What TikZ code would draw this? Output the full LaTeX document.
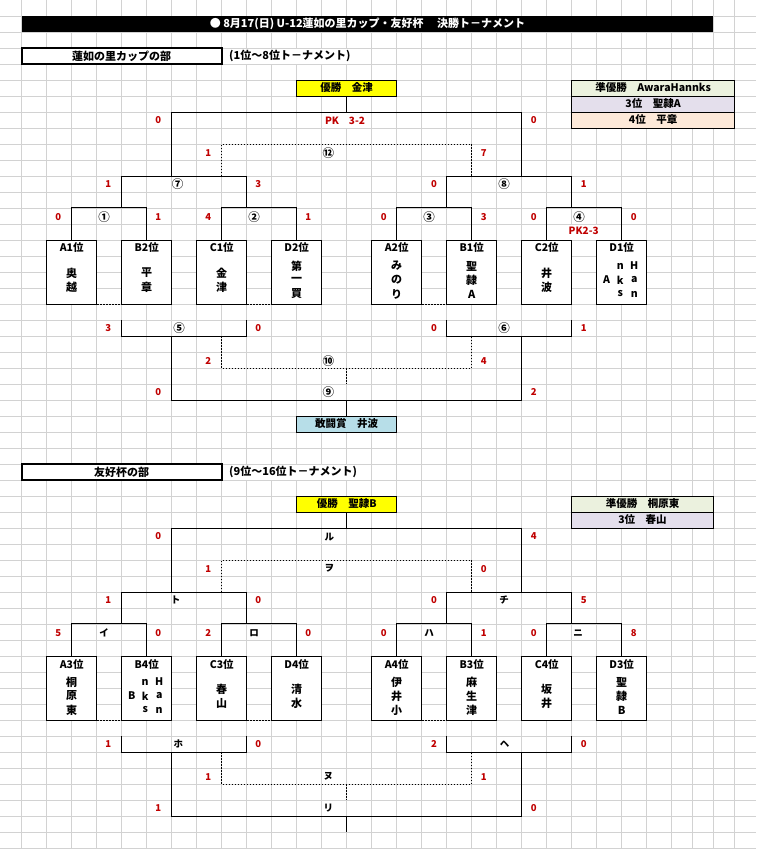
\documentclass[tikz,border=0pt]{standalone}
\usepackage{fontspec}
\setmainfont{Noto Sans CJK JP}
\definecolor{gridc}{HTML}{D2D2D2}
\definecolor{scred}{HTML}{C00000}
\definecolor{yel}{HTML}{FFFF00}
\definecolor{kan}{HTML}{B7DEE8}
\definecolor{jun}{HTML}{EBF1DE}
\definecolor{san}{HTML}{E4DFEC}
\definecolor{yon}{HTML}{FDE9D9}
\newcommand\fs[1]{\fontsize{#1}{#1}\selectfont}
\tikzset{
 ln/.style={line width=0.9pt},
 dotl/.style={line width=0.9pt, dash pattern=on 1.5pt off 1.5pt},
 team/.style={draw, fill=white, line width=0.9pt, minimum width=50pt, minimum height=64pt, inner sep=0pt},
 scr/.style={text=scred, font=\bfseries\fs{9.5}, inner sep=0pt},
 lab/.style={font=\bfseries\fs{9.5}, inner sep=0pt},
 circ/.style={font=\bfseries\fs{11.5}, inner sep=0pt},
 hd/.style={font=\bfseries\fs{10.5}, inner sep=0pt},
 ch/.style={font=\bfseries\fs{11}, inner sep=0pt},
 rbox/.style={draw, line width=0.9pt, minimum height=16pt, inner sep=0pt, font=\bfseries\fs{10.5}},
 secbox/.style={draw, fill=white, line width=1.8pt, minimum width=200pt, minimum height=16pt, inner sep=0pt, font=\bfseries\fs{11}},
 subt/.style={anchor=west, font=\bfseries\fs{11}, inner sep=0pt}
}
% bracket lines of one half (coordinates of the upper half)
\newcommand\brackets[1]{%
  \foreach \i/\xx in {1/71.7,2/146.7,3/221.7,4/296.7,5/396.7,6/471.7,7/546.7,8/621.7}{\node[team] (#1b\i) at (\xx,272) {};}
  \draw[ln] (#1b1.north) -- ++(0,-32) -| (#1b2.north);
  \draw[ln] (#1b3.north) -- ++(0,-32) -| (#1b4.north);
  \draw[ln] (#1b5.north) -- ++(0,-32) -| (#1b6.north);
  \draw[ln] (#1b7.north) -- ++(0,-32) -| (#1b8.north);
  \draw[dotl] (#1b1.south east) -- (#1b2.south west);
  \draw[dotl] (#1b3.south east) -- (#1b4.south west);
  \draw[dotl] (#1b5.south east) -- (#1b6.south west);
  \coordinate (#1sl) at (121.7,208); \coordinate (#1sr) at (571.7,208);
  \draw[ln] (#1sl) -- (121.7,176) -- (246.7,176) -- (246.7,208);
  \draw[ln] (446.7,208) -- (446.7,176) -- (571.7,176) -- (#1sr);
  \draw[ln] (171.7,176) -- (171.7,112) -- (521.7,112) -- (521.7,176);
  \draw[dotl] (221.7,176) -- (221.7,144) -- (471.7,144) -- (471.7,176);
  \draw[ln] (121.7,320) -- (121.7,336) -- (246.7,336) -- (246.7,320);
  \draw[ln] (446.7,320) -- (446.7,336) -- (571.7,336) -- (571.7,320);
  \draw[ln] (171.7,336) -- (171.7,400) -- (521.7,400) -- (521.7,336);
  \coordinate (#1st) at (346.7,400); \coordinate (#1sb) at (346.7,416);
  \draw[ln] (#1st) -- (#1sb);
  \draw[dotl] (221.7,336) -- (221.7,368) -- (471.7,368) -- (471.7,336);
  \draw[dotl] (346.7,368) -- (346.7,384);
}
\newcommand\hdr[3]{\node[hd] (#1) at (#2,248) {#3};}
\newcommand\two[4]{\node[ch] (#1a) at (#2,273) {#3};\node[ch] (#1b) at (#2,287) {#4};}
\newcommand\three[5]{\node[ch] (#1a) at (#2,266) {#3};\node[ch] (#1b) at (#2,280) {#4};\node[ch] (#1c) at (#2,294) {#5};}
\newcommand\han[3]{%
  \node[hd] (#1a) at (#2-1.5,266) {n};\node[hd] (#1b) at (#2+12.5,266) {H};
  \node[hd] (#1c) at (#2-15,280) {#3};\node[hd] (#1d) at (#2-1.5,280) {k};\node[hd] (#1e) at (#2+12.5,280) {a};
  \node[hd] (#1f) at (#2-1.5,294) {s};\node[hd] (#1g) at (#2+12.5,294) {n};}
\begin{document}
\begin{tikzpicture}[x=1pt,y=-1pt]
\useasboundingbox (0,0) rectangle (756,849);
\fill[white] (0,0) rectangle (756,849);
% grid
\foreach \j in {1,...,53}{\draw[gridc,line width=0.8pt] (0,16*\j) -- (756,16*\j);}
\foreach \k in {0,...,26}{\draw[gridc,line width=0.8pt] (21.7+25*\k,0) -- (21.7+25*\k,849);}
\foreach \xx in {692.5,713.3,734.5}{\draw[gridc,line width=0.8pt] (\xx,0) -- (\xx,849);}
% title
\fill[black] (21.7,16) rectangle (713.3,32);
\node[text=white, font=\bfseries\fs{11}, inner sep=0pt] (title) at (367.5,24) {●\ 8月17(日)\ U-12蓮如の里カップ・友好杯　\ 決勝ト－ナメント};

% ===== upper half =====
\fill[white] (222.2,48.5) rectangle (371.2,63.5);
\fill[white] (322.4,112.5) rectangle (371.2,127.5);
\fill[white] (547.2,224.5) rectangle (621.2,239.5);
\node[secbox] (s1) at (121.7,56) {蓮如の里カップの部};
\node[subt] (s1t) at (229,56) {(1位～8位ト－ナメント)};
\brackets{u}
\node[rbox, fill=yel, minimum width=100pt] (w1) at (346.7,88) {優勝　金津};
\draw[ln] (w1.south) -- ++(0,16);
\node[rbox, fill=kan, minimum width=100pt] (k1) at (346.7,424) {敢闘賞　井波};
\node[rbox, fill=jun, minimum width=162.8pt] (r1) at (653.1,88) {準優勝　AwaraHannks};
\node[rbox, fill=san, minimum width=162.8pt] (r2) at (653.1,104) {3位　聖隷A};
\node[rbox, fill=yon, minimum width=162.8pt] (r3) at (653.1,120) {4位　平章};
\node[scr, font=\bfseries\fs{10}] (pk1) at (345,120.5) {PK　3-2};
\node[scr, font=\bfseries\fs{10}] (pk2) at (583.7,231) {PK2-3};
\hdr{uh1}{71.7}{A1位}\hdr{uh2}{146.7}{B2位}\hdr{uh3}{221.7}{C1位}\hdr{uh4}{296.7}{D2位}
\hdr{uh5}{396.7}{A2位}\hdr{uh6}{471.7}{B1位}\hdr{uh7}{546.7}{C2位}\hdr{uh8}{621.7}{D1位}
\two{un1}{71.7}{奥}{越}\two{un2}{146.7}{平}{章}\two{un3}{221.7}{金}{津}\three{un4}{296.7}{第}{一}{買}
\three{un5}{396.7}{み}{の}{り}\three{un6}{471.7}{聖}{隷}{A}\two{un7}{546.7}{井}{波}\han{un8}{621.7}{A}
\foreach \n/\xx/\yy/\v in {1/158.3/120.5/0,2/533.7/120.5/0,3/208.3/152.7/1,4/483.7/152.7/7,
  5/108.3/184.3/1,6/258.3/184.3/3,7/434/184.3/0,8/583.7/184.3/1,
  9/58.3/216.7/0,10/158.3/216.7/1,11/208.3/216.7/4,12/308.3/216.7/1,13/383.7/216.7/0,14/483.7/216.7/3,15/533.7/216.7/0,16/633.7/216.7/0,
  17/108.3/328.3/3,18/258.3/328.3/0,19/434/328.3/0,20/583.7/328.3/1,21/208.3/360.7/2,22/483.7/360.7/4,23/158.3/392.3/0,24/533.7/392.3/2}
  {\node[scr] (us\n) at (\xx,\yy) {\v};}
\foreach \n/\xx/\yy/\v in {1/328.3/152.7/⑫,2/177.7/184.3/⑦,3/504/184.3/⑧,4/104/216.7/①,5/254/216.7/②,6/429/216.7/③,7/579/216.7/④,
  8/179/328.3/⑤,9/504/328.3/⑥,10/328.3/360.7/⑩,11/328.3/392.3/⑨}
  {\node[circ] (ul\n) at (\xx,\yy) {\v};}

% ===== lower half =====
\begin{scope}[shift={(0,416)}]
\fill[white] (222.2,48.5) rectangle (371.2,63.5);
\node[secbox] (s2) at (121.7,56) {友好杯の部};
\node[subt] (s2t) at (229,56) {(9位～16位ト－ナメント)};
\brackets{l}
\node[rbox, fill=yel, minimum width=100pt] (w2) at (346.7,88) {優勝　聖隷B};
\draw[ln] (w2.south) -- ++(0,16);
\node[rbox, fill=jun, minimum width=141.6pt] (r4) at (642.5,88) {準優勝　桐原東};
\node[rbox, fill=san, minimum width=141.6pt] (r5) at (642.5,104) {3位　春山};
\hdr{lh1}{71.7}{A3位}\hdr{lh2}{146.7}{B4位}\hdr{lh3}{221.7}{C3位}\hdr{lh4}{296.7}{D4位}
\hdr{lh5}{396.7}{A4位}\hdr{lh6}{471.7}{B3位}\hdr{lh7}{546.7}{C4位}\hdr{lh8}{621.7}{D3位}
\three{ln1}{71.7}{桐}{原}{東}\han{ln2}{146.7}{B}\two{ln3}{221.7}{春}{山}\two{ln4}{296.7}{清}{水}
\three{ln5}{396.7}{伊}{井}{小}\three{ln6}{471.7}{麻}{生}{津}\two{ln7}{546.7}{坂}{井}\three{ln8}{621.7}{聖}{隷}{B}
\foreach \n/\xx/\yy/\v in {1/158.3/120.5/0,2/533.7/120.5/4,3/208.3/152.7/1,4/483.7/152.7/0,
  5/108.3/184.3/1,6/258.3/184.3/0,7/434/184.3/0,8/583.7/184.3/5,
  9/58.3/216.7/5,10/158.3/216.7/0,11/208.3/216.7/2,12/308.3/216.7/0,13/383.7/216.7/0,14/483.7/216.7/1,15/533.7/216.7/0,16/633.7/216.7/8,
  17/108.3/328.3/1,18/258.3/328.3/0,19/434/328.3/2,20/583.7/328.3/0,21/208.3/360.7/1,22/483.7/360.7/1,23/158.3/392.3/1,24/533.7/392.3/0}
  {\node[scr] (ls\n) at (\xx,\yy) {\v};}
\foreach \n/\xx/\yy/\v in {0/329.3/120.7/ル,1/329.3/152.7/ヲ,2/175.7/184.3/ト,3/504/184.3/チ,4/104/216.7/イ,5/254/216.7/ロ,6/429/216.7/ハ,7/578/216.7/ニ,
  8/178.3/328.3/ホ,9/504.7/328.3/ヘ,10/328.3/360.7/ヌ,11/328.3/392.3/リ}
  {\node[lab] (ll\n) at (\xx,\yy) {\v};}
\end{scope}
\end{tikzpicture}
\end{document}
